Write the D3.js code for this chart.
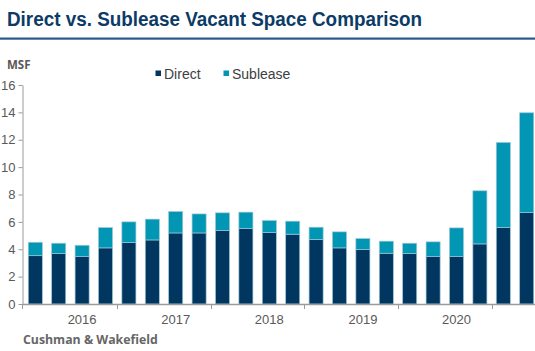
<!DOCTYPE html>
<html>
<head>
<meta charset="utf-8">
<script src="https://cdn.jsdelivr.net/npm/d3@7"></script>
<style>
  html, body { margin: 0; padding: 0; background: #fff; }
  svg { display: block; }
</style>
</head>
<body>
<svg id="chart" width="535" height="351"></svg>
<script>
// ---- data ----
const quarters = ["2016 Q1","2016 Q2","2016 Q3","2016 Q4",
                  "2017 Q1","2017 Q2","2017 Q3","2017 Q4",
                  "2018 Q1","2018 Q2","2018 Q3","2018 Q4",
                  "2019 Q1","2019 Q2","2019 Q3","2019 Q4",
                  "2020 Q1","2020 Q2","2020 Q3","2020 Q4",
                  "2021 Q1","2021 Q2"];
const direct   = [3.53,3.68,3.46,4.10,4.49,4.68,5.19,5.19,5.36,5.51,5.22,5.10,4.71,4.10,3.97,3.71,3.68,3.46,3.46,4.39,5.58,6.68];
const sublease = [0.98,0.76,0.83,1.48,1.51,1.52,1.56,1.39,1.30,1.20,0.88,0.95,0.90,1.17,0.81,0.88,0.76,1.08,2.10,3.88,6.22,7.29];
const seriesNames = ["Direct","Sublease"];
const yearLabels = ["2016","2017","2018","2019","2020"];
const yearLabelAt = ["2016 Q3","2017 Q3","2018 Q3","2019 Q3","2020 Q3"];
const yearBoundaries = ["2017 Q1","2018 Q1","2019 Q1","2020 Q1","2021 Q1"];
const yTicks = [0,2,4,6,8,10,12,14,16];

const colors = {Direct: "#00365F", Sublease: "#0096B4"};
const svg = d3.select("#chart");

// title
svg.append("text")
  .attr("x", 7).attr("y", 26)
  .attr("font-family", "Liberation Sans, Arial, sans-serif")
  .attr("font-weight", "bold").attr("font-size", 19.5)
  .attr("fill", "#0B3B66")
  .attr("textLength", 415).attr("lengthAdjust", "spacingAndGlyphs")
  .text("Direct vs. Sublease Vacant Space Comparison");
svg.append("rect").attr("x", 0).attr("y", 37.5).attr("width", 535).attr("height", 2.2).attr("fill", "#2A5A86");

// scales
const x = d3.scaleBand().domain(quarters).range([23.6, 538.4]).paddingInner(0.4).paddingOuter(0.2);
const y = d3.scaleLinear().domain([0, 16]).range([304, 85]);

// stacked data
const rows = quarters.map((q, i) => ({q, Direct: direct[i], Sublease: sublease[i]}));
const stack = d3.stack().keys(seriesNames)(rows);

const g = svg.append("g");
g.selectAll("g.series").data(stack).join("g")
  .attr("class", "series")
  .attr("fill", d => colors[d.key])
  .selectAll("rect").data(d => d).join("rect")
  .attr("x", d => x(d.data.q))
  .attr("width", x.bandwidth())
  .attr("y", d => y(d[1]))
  .attr("height", d => y(d[0]) - y(d[1]))
  .attr("stroke", "#9cc6d6").attr("stroke-width", 0.7);

// y axis
const yAxis = svg.append("g").attr("transform", "translate(22.5,0)")
  .call(d3.axisLeft(y).tickValues(yTicks).tickSize(4).tickPadding(3).tickSizeOuter(0));
yAxis.select(".domain").attr("stroke", "#9a9a9a");
yAxis.selectAll(".tick line").attr("stroke", "#9a9a9a");
yAxis.selectAll(".tick text")
  .attr("font-family", "Liberation Sans, Arial, sans-serif").attr("font-size", 13)
  .attr("fill", "#595959");

// x axis line
svg.append("line").attr("x1", 22.5).attr("x2", 535).attr("y1", 304.5).attr("y2", 304.5)
  .attr("stroke", "#9a9a9a").attr("stroke-width", 1.3);
// year boundary ticks
svg.selectAll("line.ytick").data(yearBoundaries).join("line")
  .attr("class", "ytick")
  .attr("x1", d => Math.round(x(d) - x.step() * x.paddingInner() / 2) + 0.5)
  .attr("x2", d => Math.round(x(d) - x.step() * x.paddingInner() / 2) + 0.5)
  .attr("y1", 304).attr("y2", 309)
  .attr("stroke", "#9a9a9a");
svg.append("line").attr("x1", 22.5).attr("x2", 22.5).attr("y1", 304).attr("y2", 309).attr("stroke", "#9a9a9a");
// year labels
svg.selectAll("text.year").data(yearLabels).join("text")
  .attr("class", "year")
  .attr("x", (d, i) => x(yearLabelAt[i]) + x.bandwidth() / 2)
  .attr("y", 324)
  .attr("text-anchor", "middle")
  .attr("font-family", "Liberation Sans, Arial, sans-serif").attr("font-size", 13)
  .attr("fill", "#595959")
  .text(d => d);

// unit label
svg.append("text").attr("x", 7).attr("y", 69)
  .attr("font-family", "Open Sans, sans-serif").attr("font-weight", "bold").attr("font-size", 11.5)
  .attr("fill", "#595959").text("MSF");

// legend
const legendX = [155.5, 223.5];
const lg = svg.selectAll("g.leg").data(seriesNames).join("g")
  .attr("class", "leg")
  .attr("transform", (d, i) => `translate(${legendX[i]},0)`);
lg.append("rect").attr("x", 0).attr("y", 70.5).attr("width", 5.5).attr("height", 5.5)
  .attr("fill", d => colors[d]);
lg.append("text").attr("x", 8.5).attr("y", 79)
  .attr("font-family", "Liberation Sans, Arial, sans-serif").attr("font-size", 14)
  .attr("fill", "#404040").text(d => d);

// source
svg.append("text").attr("x", 23).attr("y", 344)
  .attr("font-family", "Open Sans, sans-serif").attr("font-weight", "bold").attr("font-size", 12.3)
  .attr("fill", "#666666").text("Cushman & Wakefield");
</script>
</body>
</html>
